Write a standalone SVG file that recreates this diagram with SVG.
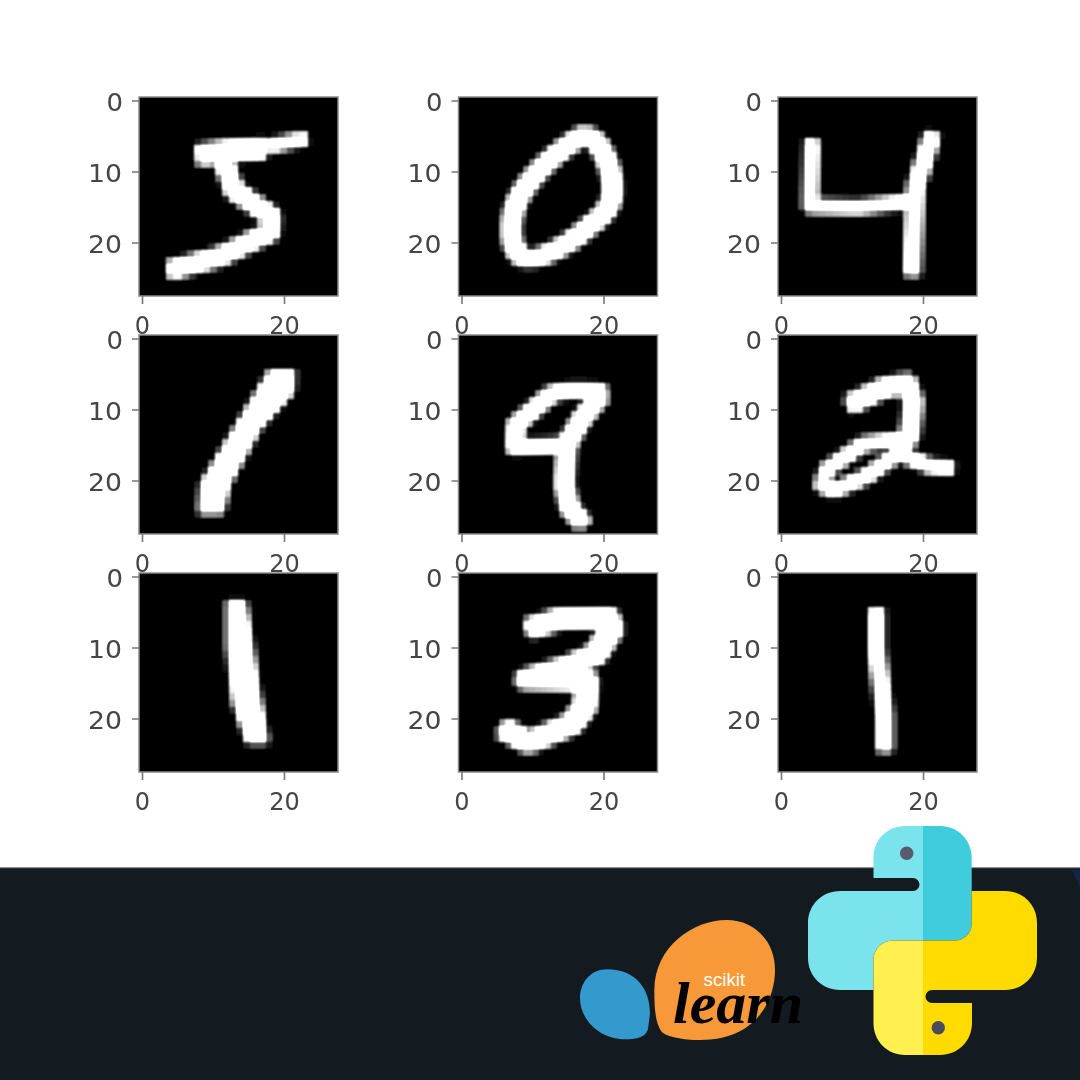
<svg xmlns="http://www.w3.org/2000/svg" width="1080" height="1080" viewBox="0 0 1080 1080">
<style>
.ax{fill:#000;stroke:#8a8a8a;stroke-width:1.5}
.tick{stroke:#777;stroke-width:1.6;fill:none}
.yl{font:24px "DejaVu Sans",sans-serif;fill:#444;text-anchor:end}
.xl{font:24px "DejaVu Sans",sans-serif;fill:#444;text-anchor:middle}
.d{fill:none;stroke:#fff;stroke-linejoin:round;stroke-linecap:butt}
.f{fill:#fff}
</style>
<defs>
<filter id="soft" x="-5%" y="-5%" width="110%" height="110%"><feGaussianBlur stdDeviation="0.45"/></filter>
<filter id="pix" filterUnits="userSpaceOnUse" primitiveUnits="userSpaceOnUse" x="0" y="0" width="199" height="199" color-interpolation-filters="sRGB">
<feGaussianBlur in="SourceGraphic" stdDeviation="2.6" result="b"/>
<feFlood x="3" y="3" width="1" height="1" flood-color="#fff" result="dot"/>
<feComposite in="dot" in2="dot" x="0" y="0" width="7" height="7" result="cell"/>
<feTile in="cell" result="tiles"/>
<feComposite in="b" in2="tiles" operator="in" result="s"/>
<feMorphology in="s" operator="dilate" radius="3.5" result="m"/>
<feGaussianBlur in="m" stdDeviation="0.8" result="mb"/>
<feComponentTransfer in="mb"><feFuncA type="linear" slope="1.5" intercept="-0.05"/></feComponentTransfer>
</filter>
<g id="frame"><rect class="ax" width="199" height="199"/><path class="tick" d="M-7 4H0M-7 75H0M-7 146H0M3.5 199V207M145.5 199V207"/></g>
</defs>
<rect id="background" width="1080" height="1080" fill="#fff"/>
<g id="chart" filter="url(#soft)">
<g id="panel-5" transform="translate(139 97)"><use href="#frame"/>
<g filter="url(#pix)"><g transform="translate(-49 -17) scale(.3333)">
<path class="d" stroke-width="58" d="M322 226L420 212L525 206"/><path class="d" stroke-width="34" d="M530 200L650 175"/><path class="d" stroke-width="50" d="M400 240L432 330L545 410L542 455L390 530L235 572"/></g></g>
<text class="yl" x="-16" y="13.5" textLength="16.5" lengthAdjust="spacingAndGlyphs">0</text><text class="yl" x="-17" y="84.5" textLength="34" lengthAdjust="spacingAndGlyphs">10</text><text class="yl" x="-17" y="155.5" textLength="34" lengthAdjust="spacingAndGlyphs">20</text>
<text class="xl" x="3.5" y="237">0</text><text class="xl" x="145.5" y="237">20</text></g>
<g id="panel-0" transform="translate(458.5 97)"><use href="#frame"/>
<g filter="url(#pix)"><g transform="translate(-8.5 -7) scale(.3462 .3333)">
<path class="d" stroke-width="44" d="M215 505C165 480 170 380 200 320C240 250 300 190 385 135C430 135 470 230 470 300C470 350 440 380 400 410C340 470 250 515 215 505Z"/></g></g>
<text class="yl" x="-16" y="13.5" textLength="16.5" lengthAdjust="spacingAndGlyphs">0</text><text class="yl" x="-17" y="84.5" textLength="34" lengthAdjust="spacingAndGlyphs">10</text><text class="yl" x="-17" y="155.5" textLength="34" lengthAdjust="spacingAndGlyphs">20</text>
<text class="xl" x="3.5" y="237">0</text><text class="xl" x="145.5" y="237">20</text></g>
<g id="panel-4" transform="translate(778 97)"><use href="#frame"/>
<g filter="url(#pix)"><g transform="translate(-328 -7) scale(.3462 .3333)">
<path class="d" stroke-width="36" d="M1045 150L1040 348L1180 352L1325 335"/><path class="d" stroke-width="42" d="M1395 130L1345 290L1335 555"/></g></g>
<text class="yl" x="-16" y="13.5" textLength="16.5" lengthAdjust="spacingAndGlyphs">0</text><text class="yl" x="-17" y="84.5" textLength="34" lengthAdjust="spacingAndGlyphs">10</text><text class="yl" x="-17" y="155.5" textLength="34" lengthAdjust="spacingAndGlyphs">20</text>
<text class="xl" x="3.5" y="237">0</text><text class="xl" x="145.5" y="237">20</text></g>
<g id="panel-1a" transform="translate(139 335)"><use href="#frame"/>
<g filter="url(#pix)"><g transform="translate(-9 -7) scale(.3462 .3333)">
<path class="f" d="M405 128L475 128L472 190L375 300L285 470L268 555L200 555L205 470Z"/></g></g>
<text class="yl" x="-16" y="13.5" textLength="16.5" lengthAdjust="spacingAndGlyphs">0</text><text class="yl" x="-17" y="84.5" textLength="34" lengthAdjust="spacingAndGlyphs">10</text><text class="yl" x="-17" y="155.5" textLength="34" lengthAdjust="spacingAndGlyphs">20</text>
<text class="xl" x="3.5" y="237">0</text><text class="xl" x="145.5" y="237">20</text></g>
<g id="panel-9" transform="translate(458.5 335)"><use href="#frame"/>
<g filter="url(#pix)"><g transform="translate(-328.5 -7) scale(.3462 .3333)">
<path class="d" stroke-width="38" d="M1370 192C1300 182 1250 185 1215 200L1115 290L1112 358L1262 350"/><path class="d" stroke-width="42" d="M1365 195L1300 280L1262 350L1255 470L1270 540L1312 590"/></g></g>
<text class="yl" x="-16" y="13.5" textLength="16.5" lengthAdjust="spacingAndGlyphs">0</text><text class="yl" x="-17" y="84.5" textLength="34" lengthAdjust="spacingAndGlyphs">10</text><text class="yl" x="-17" y="155.5" textLength="34" lengthAdjust="spacingAndGlyphs">20</text>
<text class="xl" x="3.5" y="237">0</text><text class="xl" x="145.5" y="237">20</text></g>
<g id="panel-2" transform="translate(778 335)"><use href="#frame"/>
<g filter="url(#pix)"><g transform="translate(-8 -7) scale(.3333)">
<path class="d" stroke-width="52" d="M235 232L340 180L410 165L430 220L420 320L385 360"/><path class="d" stroke-width="36" d="M385 335L280 348L170 425L155 470L190 488L290 445L385 375L480 415L550 420"/></g></g>
<text class="yl" x="-16" y="13.5" textLength="16.5" lengthAdjust="spacingAndGlyphs">0</text><text class="yl" x="-17" y="84.5" textLength="34" lengthAdjust="spacingAndGlyphs">10</text><text class="yl" x="-17" y="155.5" textLength="34" lengthAdjust="spacingAndGlyphs">20</text>
<text class="xl" x="3.5" y="237">0</text><text class="xl" x="145.5" y="237">20</text></g>
<g id="panel-1b" transform="translate(139 573)"><use href="#frame"/>
<g filter="url(#pix)"><g transform="translate(-9 -7) scale(.3462 .3333)">
<path class="f" d="M282 105L332 105L350 225L372 380L398 530L340 530L300 410L282 240Z"/></g></g>
<text class="yl" x="-16" y="13.5" textLength="16.5" lengthAdjust="spacingAndGlyphs">0</text><text class="yl" x="-17" y="84.5" textLength="34" lengthAdjust="spacingAndGlyphs">10</text><text class="yl" x="-17" y="155.5" textLength="34" lengthAdjust="spacingAndGlyphs">20</text>
<text class="xl" x="3.5" y="237">0</text><text class="xl" x="145.5" y="237">20</text></g>
<g id="panel-3" transform="translate(458.5 573)"><use href="#frame"/>
<g filter="url(#pix)"><g transform="translate(-328.5 -7) scale(.3462 .3333)">
<path class="d" stroke-width="54" d="M1150 190L1240 158L1380 155L1392 190L1345 265L1270 300L1145 340L1320 345L1315 420L1275 475L1150 530L1075 485"/></g></g>
<text class="yl" x="-16" y="13.5" textLength="16.5" lengthAdjust="spacingAndGlyphs">0</text><text class="yl" x="-17" y="84.5" textLength="34" lengthAdjust="spacingAndGlyphs">10</text><text class="yl" x="-17" y="155.5" textLength="34" lengthAdjust="spacingAndGlyphs">20</text>
<text class="xl" x="3.5" y="237">0</text><text class="xl" x="145.5" y="237">20</text></g>
<g id="panel-1c" transform="translate(778 573)"><use href="#frame"/>
<g filter="url(#pix)"><g transform="translate(-8 -7) scale(.3333)">
<path class="d" stroke-width="42" d="M320 130L320 250L345 450L345 555"/></g></g>
<text class="yl" x="-16" y="13.5" textLength="16.5" lengthAdjust="spacingAndGlyphs">0</text><text class="yl" x="-17" y="84.5" textLength="34" lengthAdjust="spacingAndGlyphs">10</text><text class="yl" x="-17" y="155.5" textLength="34" lengthAdjust="spacingAndGlyphs">20</text>
<text class="xl" x="3.5" y="237">0</text><text class="xl" x="145.5" y="237">20</text></g>
</g>
<g id="footer">
<rect y="868" width="1080" height="212" fill="#141b20"/>
<rect y="867" width="1080" height="1.2" fill="#8a8d90"/>
<path d="M1072 870H1080V887Z" fill="#12264a"/>
</g>
<g id="scikit-learn">
<g transform="translate(560 810) scale(.3333)">
<path fill="#3499cd" d="M270 610C270 540 230 478 140 478C95 478 60 515 60 565C60 630 120 688 195 688C235 688 262 680 265 650Z"/>
<path fill="#f89939" d="M500 330C580 330 645 390 645 480C645 570 590 690 420 690C370 690 320 680 305 665C285 640 283 590 283 540C283 410 400 330 500 330Z"/>
</g>
<text x="703.5" y="986" font-family="Liberation Sans, sans-serif" font-size="18.8" fill="#fff">scikit</text>
<text x="673" y="1023" font-family="Liberation Serif, serif" font-size="60" font-style="italic" font-weight="700" fill="#000">learn</text>
</g>
<g id="python">
<path fill="#7ae3ec" d="M923 826H905C887 826 873.5 840 873.5 858V878H913A6.5 6.5 0 0 1 913 891H840C822 891 808 905 808 923V958C808 976 822 990 840 990H873.5V960C873.5 949 882 940.5 893 940.5H923Z"/>
<path fill="#3fcddd" d="M923 826H940C958 826 971.7 840 971.7 858V924C971.7 933 964 940.5 955 940.5H923Z"/>
<path fill="#ffdb00" d="M971.7 891H1005C1023 891 1037 905 1037 923V958C1037 976 1023 990 1005 990H932A6.5 6.5 0 0 0 932 1003H972V1023C972 1041 958 1055 940 1055H923V940.5H955C964 940.5 971.7 933 971.7 924Z"/>
<path fill="#fff050" d="M923 940.5H893C882 940.5 873.5 949 873.5 960V1023C873.5 1041 887 1055 905 1055H923Z"/>
<circle cx="906.7" cy="853.3" r="6.7" fill="#5b5b70"/>
<circle cx="938.3" cy="1027.7" r="6.7" fill="#4b4b60"/>
</g>
</svg>
